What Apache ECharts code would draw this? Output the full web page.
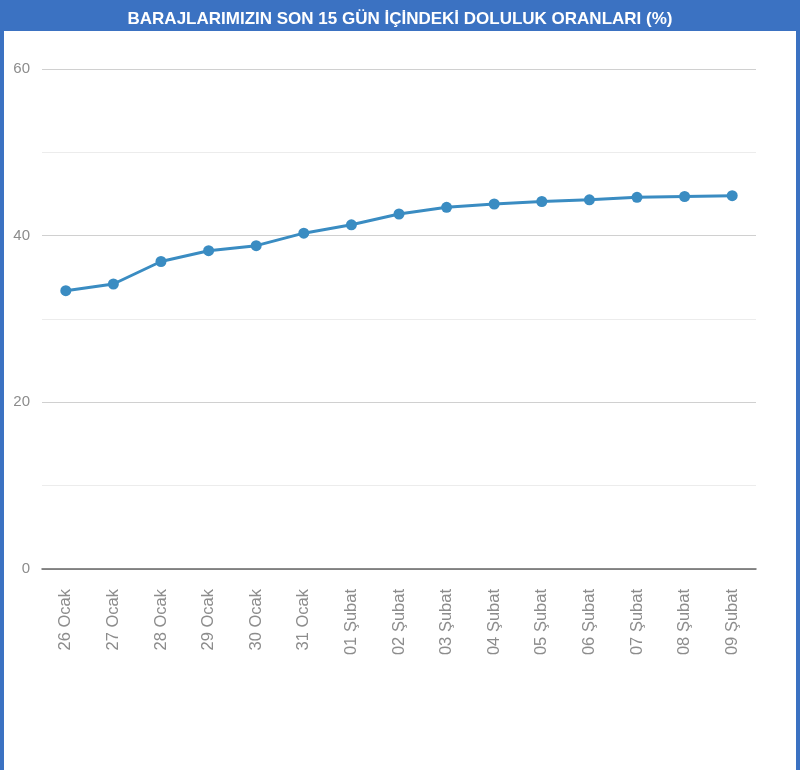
<!DOCTYPE html>
<html>
<head>
<meta charset="utf-8">
<script src="https://cdn.jsdelivr.net/npm/echarts@6/dist/echarts.min.js"></script>
<style>
html,body{margin:0;padding:0;background:#fff;}
#chart{width:800px;height:770px;}
</style>
</head>
<body>
<div id="chart"></div>
<script>
var titleText = 'BARAJLARIMIZIN SON 15 GÜN İÇİNDEKİ DOLULUK ORANLARI (%)';
var categories = ['26 Ocak','27 Ocak','28 Ocak','29 Ocak','30 Ocak','31 Ocak','01 Şubat','02 Şubat','03 Şubat','04 Şubat','05 Şubat','06 Şubat','07 Şubat','08 Şubat','09 Şubat'];
var values = [33.4, 34.2, 36.9, 38.2, 38.8, 40.3, 41.3, 42.6, 43.4, 43.8, 44.1, 44.3, 44.6, 44.7, 44.8];
var yTickLabels = [0, 20, 40, 60];

var chart = echarts.init(document.getElementById('chart'));
var blue = '#3b72c2';
var font = 'Liberation Sans, Arial, sans-serif';
chart.setOption({
  backgroundColor: '#fff',
  animation: false,
  title: {
    text: titleText,
    left: 'center',
    top: 6,
    textStyle: {color: '#fff', fontSize: 17, fontWeight: 'bold', fontFamily: font}
  },
  graphic: [
    {type: 'rect', shape: {x: 0, y: 0, width: 800, height: 31}, style: {fill: blue}, z: -1},
    {type: 'rect', shape: {x: 0, y: 0, width: 4, height: 770}, style: {fill: blue}, z: -1},
    {type: 'rect', shape: {x: 796, y: 0, width: 4, height: 770}, style: {fill: blue}, z: -1}
  ],
  grid: {left: 42, right: 44, top: 69, bottom: 201, containLabel: false},
  xAxis: {
    type: 'category',
    data: categories,
    boundaryGap: true,
    axisLine: {lineStyle: {color: '#666', width: 1.5}},
    axisTick: {show: false},
    axisLabel: {rotate: 90, margin: 20, color: '#8c8c8c', fontSize: 16.5, fontFamily: font}
  },
  yAxis: {
    type: 'value',
    min: 0, max: 60, interval: 10,
    axisLine: {show: false},
    axisTick: {show: false},
    axisLabel: {
      margin: 12, color: '#8c8c8c', fontSize: 15, fontFamily: font,
      formatter: function (v) { return yTickLabels.indexOf(v) >= 0 ? String(v) : ''; }
    },
    splitLine: {lineStyle: {color: ['#d0d0d0', '#ececec'], width: 1}}
  },
  series: [{
    type: 'line',
    data: values,
    symbol: 'circle',
    symbolSize: 11,
    lineStyle: {color: '#3a8cc2', width: 3},
    itemStyle: {color: '#3a8cc2'}
  }]
});
</script>
</body>
</html>
